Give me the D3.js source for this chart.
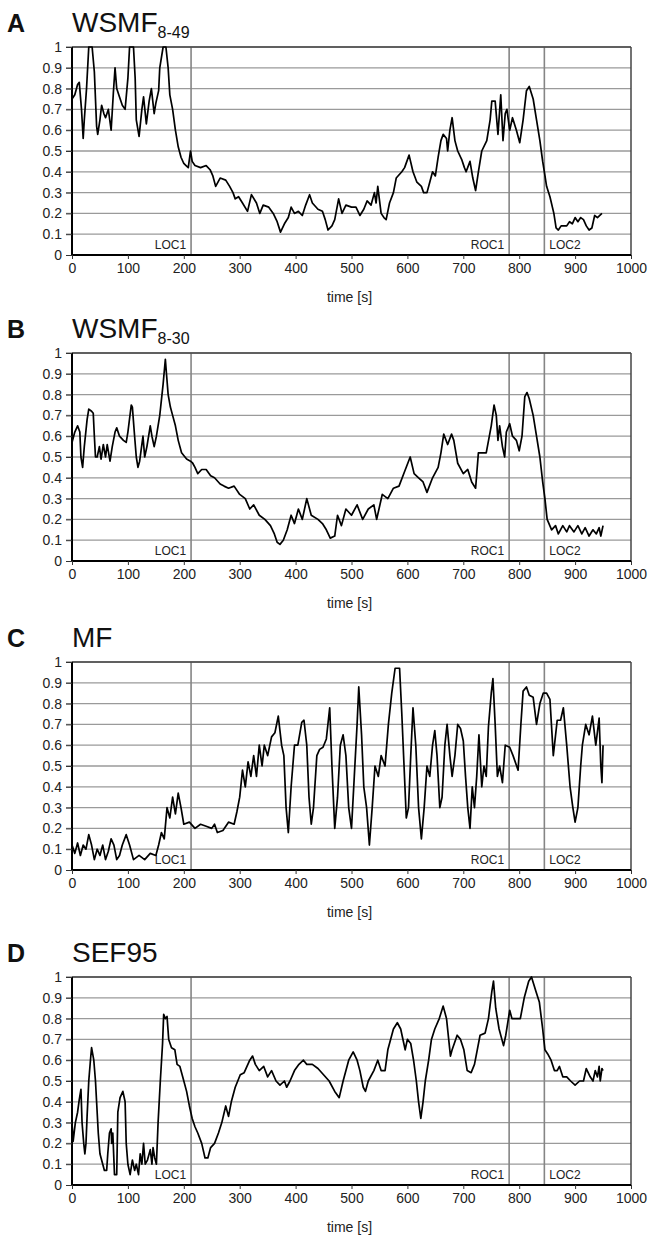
<!DOCTYPE html>
<html>
<head>
<meta charset="utf-8">
<script src="https://cdnjs.cloudflare.com/ajax/libs/d3/7.8.5/d3.min.js"></script>
<style>
  body { margin: 0; background: #fff; }
  svg { display: block; font-family: "Liberation Sans", Arial, sans-serif; }
</style>
</head>
<body>
<div id="chart"></div>
<script>
'use strict';

// event markers (time in s)
var eventNames = ["LOC1", "ROC1", "LOC2"];
var eventTimes = [213, 782, 845];

var xTicks = [0, 100, 200, 300, 400, 500, 600, 700, 800, 900, 1000];
var yTicks = [0, 0.1, 0.2, 0.3, 0.4, 0.5, 0.6, 0.7, 0.8, 0.9, 1];

// [time, value]
var wsmf849 = [
  [0,0.75],[5,0.77],[10,0.82],[13,0.83],[17,0.7],[20,0.56],[22,0.65],[26,0.8],[30,1.0],[36,1.0],[40,0.88],
  [44,0.62],[46,0.58],[50,0.65],[53,0.72],[57,0.68],[60,0.66],[65,0.7],[70,0.6],[74,0.78],[77,0.9],[80,0.8],
  [85,0.76],[90,0.72],[95,0.7],[100,0.85],[103,1.0],[110,1.0],[113,0.85],[115,0.65],[120,0.57],[125,0.7],
  [128,0.76],[133,0.63],[138,0.74],[142,0.8],[147,0.68],[150,0.73],[155,0.79],[157,0.9],[163,1.0],[168,1.0],
  [172,0.9],[175,0.77],[180,0.7],[185,0.6],[190,0.52],[195,0.47],[200,0.44],[204,0.43],[208,0.42],[212,0.5],
  [215,0.45],[220,0.43],[230,0.42],[240,0.43],[247,0.41],[252,0.38],[257,0.33],[265,0.37],[275,0.36],[282,0.33],
  [288,0.3],[292,0.27],[298,0.28],[305,0.25],[314,0.21],[321,0.29],[330,0.25],[336,0.2],[342,0.24],[352,0.23],
  [360,0.2],[367,0.16],[373,0.11],[380,0.15],[387,0.18],[392,0.23],[398,0.2],[405,0.21],[412,0.19],[418,0.24],
  [425,0.29],[430,0.25],[440,0.22],[448,0.21],[453,0.17],[458,0.12],[465,0.14],[470,0.17],[477,0.27],[483,0.2],
  [490,0.24],[500,0.23],[508,0.23],[515,0.19],[522,0.22],[528,0.26],[535,0.24],[541,0.3],[544,0.25],[547,0.33],
  [553,0.2],[558,0.18],[562,0.17],[568,0.25],[575,0.3],[580,0.37],[590,0.4],[595,0.42],[603,0.48],[610,0.4],
  [617,0.35],[625,0.33],[629,0.3],[635,0.3],[640,0.35],[645,0.4],[650,0.38],[655,0.47],[660,0.55],[664,0.58],
  [670,0.56],[672,0.5],[676,0.6],[680,0.66],[685,0.55],[690,0.5],[697,0.46],[702,0.42],[705,0.4],[712,0.45],
  [717,0.37],[722,0.31],[727,0.4],[733,0.5],[742,0.55],[748,0.65],[751,0.74],[757,0.74],[762,0.58],[767,0.77],
  [771,0.55],[775,0.68],[778,0.7],[783,0.6],[788,0.66],[795,0.6],[801,0.54],[807,0.65],[813,0.79],[818,0.81],
  [825,0.75],[831,0.65],[837,0.55],[842,0.45],[845,0.4],[849,0.33],[855,0.28],[862,0.2],[866,0.13],[870,0.12],
  [875,0.14],[885,0.14],[890,0.16],[895,0.15],[900,0.18],[905,0.16],[910,0.18],[915,0.17],[920,0.14],[925,0.12],
  [930,0.13],[935,0.19],[940,0.18],[948,0.2]
];

var wsmf830 = [
  [0,0.57],[5,0.62],[10,0.65],[14,0.62],[16,0.5],[19,0.45],[22,0.55],[27,0.68],[30,0.73],[35,0.72],[38,0.71],
  [40,0.6],[42,0.5],[45,0.5],[49,0.55],[52,0.49],[56,0.56],[60,0.5],[63,0.56],[68,0.48],[72,0.55],[77,0.62],
  [80,0.64],[85,0.6],[92,0.58],[97,0.57],[100,0.62],[106,0.75],[108,0.74],[112,0.6],[115,0.5],[118,0.45],
  [121,0.48],[127,0.6],[130,0.5],[134,0.55],[140,0.65],[143,0.6],[147,0.55],[151,0.6],[157,0.7],[163,0.85],
  [167,0.97],[169,0.9],[172,0.8],[176,0.74],[180,0.7],[185,0.65],[190,0.58],[196,0.52],[205,0.49],[212,0.48],
  [216,0.47],[220,0.45],[225,0.42],[232,0.44],[240,0.44],[248,0.41],[255,0.4],[265,0.37],[272,0.36],[280,0.35],
  [290,0.36],[300,0.32],[310,0.3],[318,0.25],[325,0.27],[335,0.22],[345,0.2],[355,0.17],[362,0.13],[367,0.09],
  [372,0.08],[378,0.1],[385,0.15],[392,0.22],[398,0.18],[405,0.25],[412,0.2],[420,0.3],[428,0.22],[440,0.2],
  [448,0.18],[455,0.15],[462,0.11],[470,0.12],[475,0.22],[482,0.17],[490,0.25],[500,0.22],[510,0.27],[520,0.2],
  [530,0.25],[540,0.27],[545,0.2],[555,0.32],[565,0.3],[575,0.35],[585,0.36],[595,0.43],[605,0.5],[612,0.42],
  [620,0.4],[628,0.38],[635,0.33],[645,0.4],[655,0.45],[660,0.52],[665,0.61],[672,0.56],[679,0.61],[683,0.58],
  [690,0.47],[700,0.42],[708,0.44],[715,0.38],[722,0.35],[727,0.52],[741,0.52],[750,0.65],[755,0.75],[759,0.7],
  [762,0.58],[765,0.65],[770,0.55],[774,0.5],[777,0.62],[783,0.66],[788,0.6],[795,0.58],[800,0.53],[805,0.6],
  [810,0.79],[814,0.81],[818,0.78],[825,0.7],[831,0.6],[837,0.5],[842,0.38],[846,0.3],[850,0.2],[858,0.15],
  [865,0.17],[870,0.13],[878,0.17],[885,0.14],[890,0.17],[898,0.14],[905,0.17],[912,0.13],[918,0.16],[925,0.12],
  [932,0.15],[938,0.13],[943,0.16],[946,0.12],[950,0.17]
];

var mf = [
  [0,0.12],[5,0.08],[10,0.13],[15,0.07],[20,0.12],[25,0.1],[30,0.17],[35,0.12],[40,0.05],[45,0.1],[50,0.07],
  [55,0.12],[60,0.05],[65,0.09],[70,0.15],[75,0.12],[80,0.05],[85,0.07],[90,0.12],[97,0.17],[103,0.12],
  [110,0.05],[120,0.07],[130,0.05],[140,0.08],[150,0.07],[155,0.12],[160,0.18],[165,0.15],[170,0.3],[175,0.25],
  [180,0.35],[185,0.27],[190,0.37],[195,0.3],[200,0.22],[210,0.23],[220,0.2],[230,0.22],[240,0.21],[250,0.2],
  [255,0.22],[260,0.18],[270,0.19],[280,0.23],[290,0.22],[295,0.28],[300,0.35],[305,0.48],[310,0.4],[315,0.52],
  [320,0.45],[325,0.55],[330,0.45],[335,0.6],[340,0.5],[344,0.6],[350,0.55],[357,0.64],[363,0.66],[369,0.74],
  [375,0.6],[379,0.55],[383,0.3],[387,0.18],[392,0.4],[398,0.6],[404,0.6],[411,0.71],[415,0.72],[420,0.6],
  [424,0.35],[428,0.22],[432,0.3],[438,0.55],[443,0.58],[449,0.59],[455,0.63],[461,0.78],[465,0.5],[470,0.2],
  [475,0.35],[480,0.6],[485,0.65],[490,0.55],[495,0.3],[500,0.2],[505,0.45],[510,0.7],[513,0.88],[518,0.65],
  [522,0.4],[527,0.3],[532,0.12],[537,0.3],[542,0.5],[548,0.45],[553,0.55],[560,0.5],[566,0.7],[572,0.85],
  [578,0.97],[586,0.97],[590,0.75],[594,0.5],[598,0.25],[602,0.3],[606,0.55],[610,0.78],[615,0.6],[620,0.3],
  [625,0.15],[630,0.3],[635,0.5],[640,0.45],[645,0.6],[649,0.67],[653,0.55],[658,0.3],[662,0.35],[667,0.6],
  [671,0.7],[676,0.55],[680,0.45],[685,0.55],[690,0.7],[695,0.68],[700,0.62],[704,0.45],[708,0.3],[712,0.2],
  [716,0.4],[720,0.3],[724,0.45],[728,0.65],[733,0.4],[737,0.5],[741,0.45],[745,0.69],[750,0.85],[753,0.92],
  [757,0.7],[761,0.45],[765,0.5],[770,0.42],[775,0.6],[783,0.59],[789,0.55],[798,0.48],[803,0.7],[807,0.86],
  [813,0.88],[818,0.84],[825,0.83],[831,0.7],[837,0.8],[843,0.85],[849,0.85],[855,0.82],[861,0.55],[868,0.72],
  [874,0.72],[879,0.78],[885,0.6],[891,0.4],[896,0.3],[900,0.23],[905,0.3],[910,0.5],[913,0.6],[919,0.7],
  [925,0.65],[931,0.74],[937,0.6],[943,0.73],[946,0.5],[948,0.42],[950,0.6]
];

var sef95 = [
  [0,0.3],[2,0.21],[6,0.3],[10,0.35],[13,0.41],[16,0.46],[18,0.3],[21,0.2],[23,0.15],[25,0.2],[27,0.33],
  [30,0.5],[33,0.6],[35,0.66],[39,0.6],[42,0.5],[44,0.4],[47,0.25],[50,0.15],[55,0.1],[58,0.07],[62,0.07],
  [64,0.15],[67,0.25],[70,0.27],[71,0.2],[73,0.25],[76,0.05],[80,0.05],[82,0.35],[86,0.42],[91,0.45],
  [95,0.4],[97,0.2],[100,0.1],[104,0.05],[108,0.12],[112,0.07],[115,0.1],[119,0.05],[122,0.15],[125,0.1],
  [128,0.2],[131,0.1],[135,0.12],[140,0.17],[143,0.1],[145,0.18],[148,0.13],[151,0.1],[154,0.3],[158,0.5],
  [162,0.68],[164,0.82],[167,0.8],[170,0.81],[173,0.7],[178,0.66],[184,0.65],[188,0.58],[193,0.57],[198,0.52],
  [205,0.45],[210,0.38],[215,0.32],[220,0.28],[225,0.25],[232,0.2],[238,0.13],[243,0.13],[248,0.18],[255,0.2],
  [262,0.25],[268,0.3],[275,0.38],[280,0.33],[285,0.4],[292,0.47],[301,0.53],[308,0.54],[318,0.6],[323,0.62],
  [328,0.58],[335,0.55],[343,0.57],[350,0.52],[357,0.55],[365,0.5],[372,0.48],[380,0.5],[384,0.47],[390,0.5],
  [398,0.55],[406,0.58],[414,0.6],[420,0.58],[430,0.58],[440,0.56],[450,0.53],[460,0.5],[470,0.45],[478,0.42],
  [485,0.5],[495,0.6],[503,0.64],[510,0.6],[515,0.55],[521,0.47],[525,0.45],[530,0.5],[540,0.55],[547,0.6],
  [553,0.55],[560,0.55],[565,0.65],[575,0.75],[582,0.78],[588,0.75],[596,0.65],[600,0.7],[606,0.68],[611,0.6],
  [616,0.5],[620,0.4],[624,0.32],[628,0.4],[632,0.5],[638,0.6],[643,0.7],[649,0.75],[657,0.8],[664,0.86],
  [670,0.8],[677,0.62],[680,0.65],[689,0.72],[695,0.7],[701,0.65],[707,0.55],[714,0.54],[720,0.58],[725,0.65],
  [730,0.72],[739,0.73],[745,0.8],[751,0.93],[754,0.98],[758,0.85],[764,0.75],[772,0.67],[776,0.72],[783,0.84],
  [787,0.8],[796,0.8],[802,0.8],[809,0.9],[817,0.98],[822,1.0],[830,0.93],[836,0.88],[842,0.75],[846,0.65],
  [851,0.63],[857,0.6],[863,0.55],[868,0.55],[872,0.57],[878,0.52],[885,0.52],[892,0.5],[900,0.48],[908,0.5],
  [915,0.5],[920,0.56],[927,0.52],[932,0.5],[936,0.55],[940,0.52],[943,0.57],[945,0.5],[948,0.56],[950,0.55]
];

var panels = [
  { letter: "A", title: "WSMF", sub: "8-49", data: wsmf849, top: 47 },
  { letter: "B", title: "WSMF", sub: "8-30", data: wsmf830, top: 353 },
  { letter: "C", title: "MF", sub: "", data: mf, top: 662 },
  { letter: "D", title: "SEF95", sub: "", data: sef95, top: 977 }
];

var W = 650, H = 1235;
var left = 72, right = 631, plotH = 208;

var svg = d3.select("#chart").append("svg")
  .attr("width", W)
  .attr("height", H);

var x = d3.scaleLinear().domain([0, 1000]).range([left, right]);

panels.forEach(function (p) {
  var y = d3.scaleLinear().domain([0, 1]).range([p.top + plotH, p.top]);
  var g = svg.append("g");

  // titles
  g.append("text")
    .attr("x", 7).attr("y", p.top - 15)
    .attr("font-size", 25).attr("font-weight", "bold")
    .attr("fill", "#111")
    .text(p.letter);
  var t = g.append("text")
    .attr("x", 72).attr("y", p.top - 15)
    .attr("font-size", 28)
    .attr("fill", "#111")
    .text(p.title);
  if (p.sub) {
    t.append("tspan")
      .attr("font-size", 16)
      .attr("dy", 6)
      .text(p.sub);
  }

  // horizontal gridlines
  g.selectAll(".grid")
    .data(yTicks.slice(1))
    .enter().append("line")
    .attr("x1", left - 6).attr("x2", right)
    .attr("y1", function (d) { return y(d); })
    .attr("y2", function (d) { return y(d); })
    .attr("stroke", "#9a9a9a")
    .attr("stroke-width", 1.3);

  // event lines
  g.selectAll(".evt")
    .data(eventTimes)
    .enter().append("line")
    .attr("x1", function (d) { return x(d); })
    .attr("x2", function (d) { return x(d); })
    .attr("y1", y(1)).attr("y2", y(0))
    .attr("stroke", "#858585")
    .attr("stroke-width", 1.6);

  // event labels
  g.selectAll(".evtlab")
    .data(eventNames)
    .enter().append("text")
    .attr("x", function (d, i) { return i == 2 ? x(eventTimes[i]) + 5 : x(eventTimes[i]) - 5; })
    .attr("y", y(0) - 6)
    .attr("text-anchor", function (d, i) { return i == 2 ? "start" : "end"; })
    .attr("font-size", 12)
    .attr("fill", "#222")
    .text(function (d) { return d; });

  // frame: top/right
  g.append("line").attr("x1", left).attr("x2", right).attr("y1", y(1)).attr("y2", y(1))
    .attr("stroke", "#444").attr("stroke-width", 1.5);
  g.append("line").attr("x1", right).attr("x2", right).attr("y1", y(1)).attr("y2", y(0))
    .attr("stroke", "#444").attr("stroke-width", 1.5);

  // data line
  var line = d3.line()
    .x(function (d) { return x(d[0]); })
    .y(function (d) { return y(d[1]); });
  g.append("path")
    .datum(p.data)
    .attr("d", line)
    .attr("fill", "none")
    .attr("stroke", "#000")
    .attr("stroke-width", 1.7)
    .attr("stroke-linejoin", "round");

  // axes
  var yAxis = g.append("g")
    .attr("transform", "translate(" + left + ",0)")
    .call(d3.axisLeft(y).tickValues(yTicks).tickSize(6).tickPadding(4)
      .tickFormat(function (d) { return d === 0 || d === 1 ? d3.format("d")(d) : d3.format(".1f")(d); }));
  var xAxis = g.append("g")
    .attr("transform", "translate(0," + y(0) + ")")
    .call(d3.axisBottom(x).tickValues(xTicks).tickSize(4).tickPadding(4)
      .tickFormat(d3.format("d")));

  [yAxis, xAxis].forEach(function (a) {
    a.select(".domain").attr("stroke", "#000").attr("stroke-width", 2);
    a.selectAll(".tick line").attr("stroke", "#333");
    a.selectAll(".tick text")
      .attr("font-size", 14)
      .attr("fill", "#222")
      .attr("font-family", "Liberation Sans, Arial, sans-serif");
  });
  yAxis.select(".domain").attr("d", "M0," + y(1) + "V" + y(0));
  xAxis.select(".domain").attr("d", "M" + left + ",0H" + right);

  g.append("text")
    .attr("x", (left + right) / 2 - 2)
    .attr("y", y(0) + 47)
    .attr("text-anchor", "middle")
    .attr("font-size", 14)
    .attr("fill", "#222")
    .text("time [s]");
});
</script>
</body>
</html>
